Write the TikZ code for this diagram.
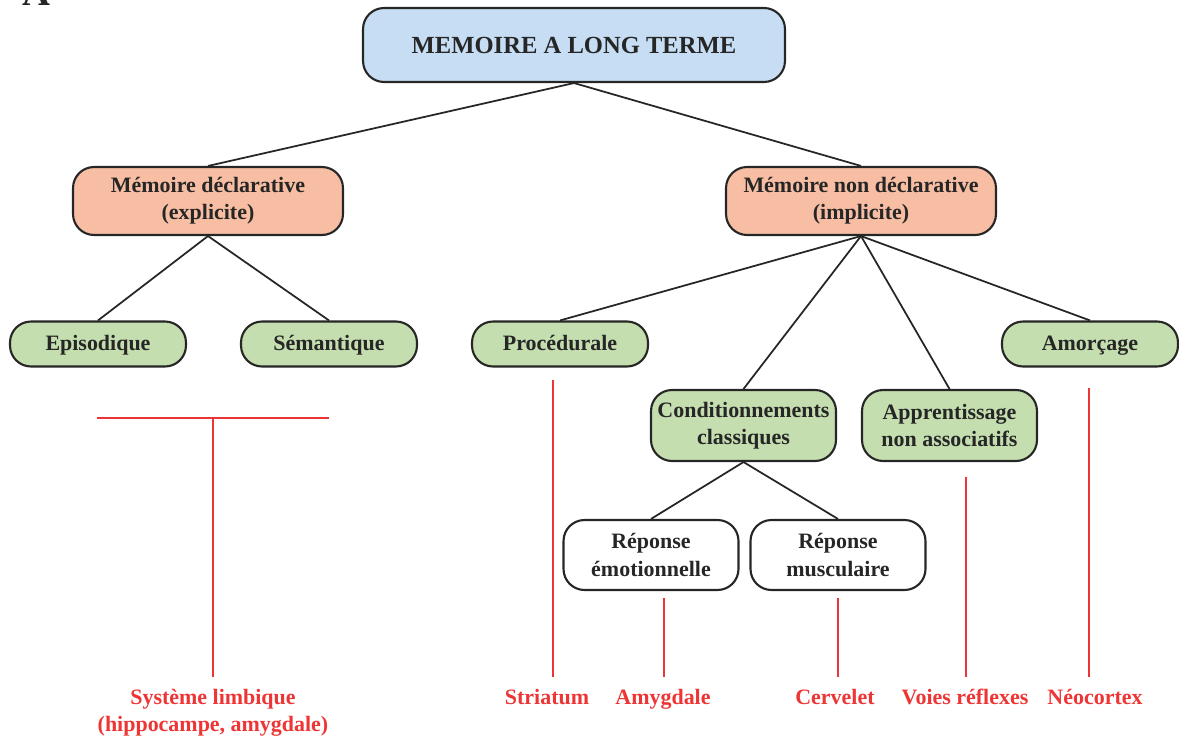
\documentclass[tikz,border=0pt]{standalone}
\usepackage{fontspec}
\setmainfont{Liberation Serif}
\usepackage{xcolor}
\usepackage{tikz}
\usetikzlibrary{positioning}
\definecolor{ltmblue}{HTML}{C6DDF3}
\definecolor{salmon}{HTML}{F7BEA3}
\definecolor{leaf}{HTML}{C4DEAF}
\definecolor{brainred}{HTML}{EE3535}
\definecolor{edge}{HTML}{262626}

\begin{document}
\begin{tikzpicture}[x=0.02cm, y=-0.02cm, font=\bfseries\fontsize{12.5}{15.5}\selectfont,
	box/.style={draw=edge, line width=1.2pt, rounded corners=0.42cm, align=center, inner sep=2pt, text=black!85},
	rootbox/.style={box, fill=ltmblue, minimum width=8.44cm, minimum height=1.48cm, font=\bfseries\fontsize{14}{16}\selectfont},
	typebox/.style={box, fill=salmon, minimum width=5.4cm, minimum height=1.36cm},
	leafbox/.style={box, fill=leaf, minimum width=3.52cm, minimum height=0.9cm},
	pill/.style={leafbox, text height=9.5pt, text depth=2.5pt},
	subbox/.style={box, fill=white, minimum width=3.5cm, minimum height=1.4cm},
	link/.style={draw=edge, line width=1pt},
	redline/.style={draw=brainred, line width=1.1pt},
	area/.style={text=brainred, anchor=north, align=center, inner xsep=2pt, inner ysep=6.7pt},
	arealine/.style={area, text height=9pt, text depth=3pt}]
		\useasboundingbox (0,0) rectangle (1179,740);
		\node[anchor=base, font=\bfseries\fontsize{22}{24}\selectfont, text=black!85] (panel) at (36,6) {A};
		\node[rootbox] (ltm) at (574,45) {MEMOIRE A LONG TERME};
		\node[typebox] (decl) at (208,201) {Mémoire déclarative\\(explicite)};
		\node[typebox] (nondecl) at (861,201) {Mémoire non déclarative\\(implicite)};
		\node[pill] (episod) at (98,344) {Episodique};
		\node[pill] (seman) at (329,344) {Sémantique};
		\node[pill] (proced) at (560,344) {Procédurale};
		\node[pill] (amorc) at (1090,344) {Amorçage};
		\node[leafbox, minimum width=3.7cm, minimum height=1.42cm] (cond) at (743.5,425.5) {Conditionnements\\classiques};
		\node[leafbox, minimum width=3.5cm, minimum height=1.42cm] (appren) at (949.5,425.5) {Apprentissage\\non associatifs};
		\node[subbox] (emot) at (651,555) {Réponse\\émotionnelle};
		\node[subbox] (muscu) at (838,555) {Réponse\\musculaire};

		\draw[link] (ltm.south) -- (decl.north);
		\draw[link] (ltm.south) -- (nondecl.north);
		\draw[link] (decl.south) -- (episod.north);
		\draw[link] (decl.south) -- (seman.north);
		\draw[link] (nondecl.south) -- (proced.north);
		\draw[link] (nondecl.south) -- (cond.north);
		\draw[link] (nondecl.south) -- (appren.north);
		\draw[link] (nondecl.south) -- (amorc.north);
		\draw[link] (cond.south) -- (emot.north);
		\draw[link] (cond.south) -- (muscu.north);

		\node[area] (limbic) at (213,677) {Système limbique\\(hippocampe, amygdale)};
		\node[arealine] (striatum) at (547,677) {Striatum};
		\node[arealine] (amygdala) at (663,677) {Amygdale};
		\node[arealine] (cerebel) at (835,677) {Cervelet};
		\node[arealine] (reflex) at (965,677) {Voies réflexes};
		\node[arealine] (neocortex) at (1095,677) {Néocortex};

		\coordinate (limbL) at (97,418);
		\coordinate (limbR) at (329,418);
		\coordinate (limbHub) at (213,418);
		\coordinate (striT) at (553,380);
		\coordinate (amygT) at (664,598);
		\coordinate (cereT) at (838,598);
		\coordinate (reflT) at (966,477);
		\coordinate (neoT) at (1089,388);
		\draw[redline] (limbL) -- (limbR);
		\draw[redline] (limbHub) -- (limbHub |- limbic.north);
		\draw[redline] (striT) -- (striT |- striatum.north);
		\draw[redline] (amygT) -- (amygT |- amygdala.north);
		\draw[redline] (cereT) -- (cereT |- cerebel.north);
		\draw[redline] (reflT) -- (reflT |- reflex.north);
		\draw[redline] (neoT) -- (neoT |- neocortex.north);
	\end{tikzpicture}
\end{document}
